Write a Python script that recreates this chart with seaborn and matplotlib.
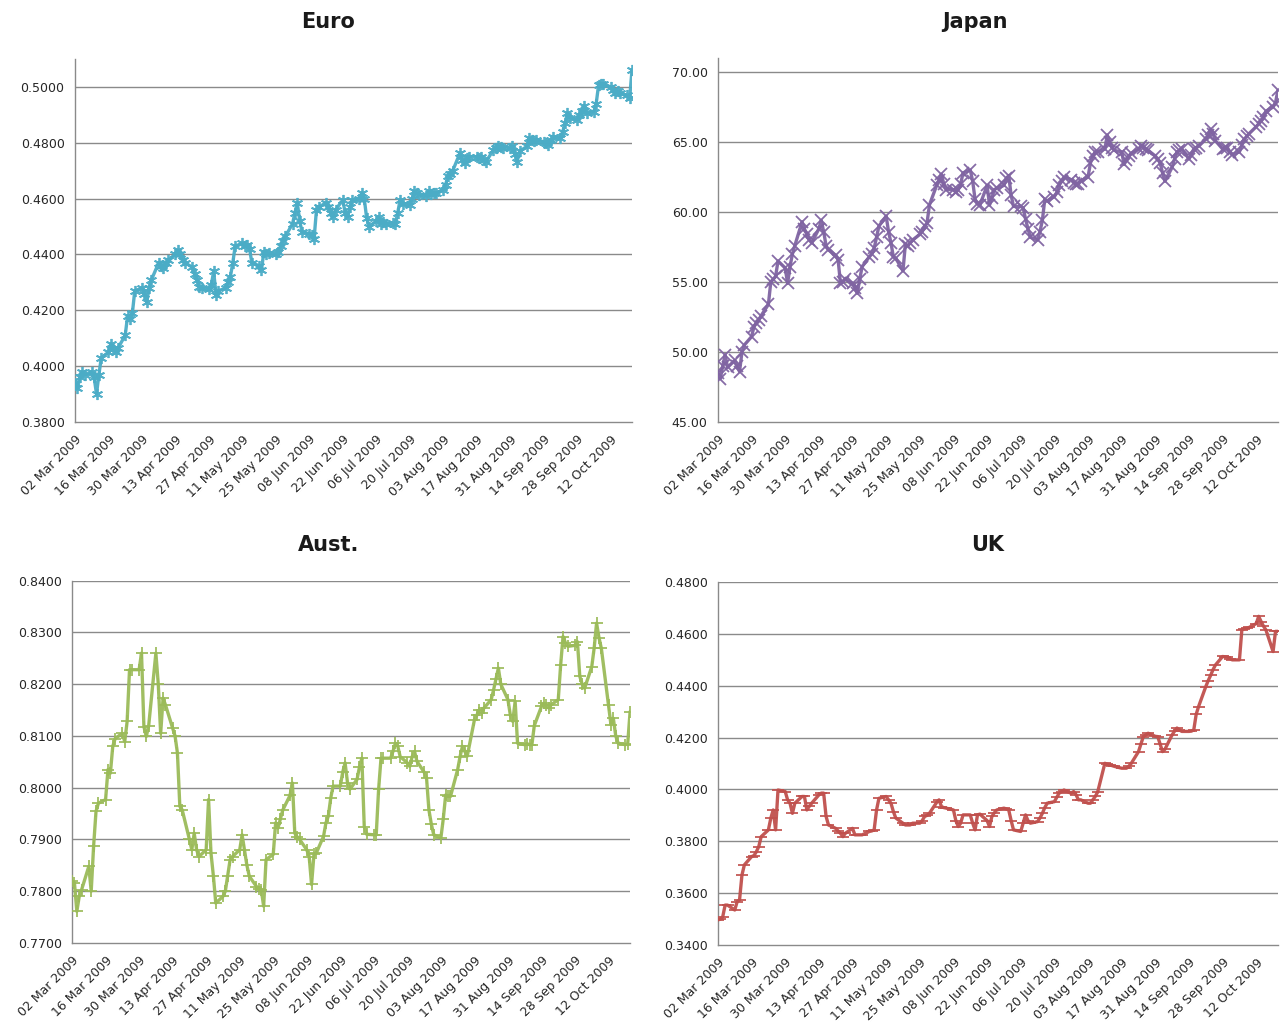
import pandas as pd
import numpy as np
import matplotlib
matplotlib.use("Agg")
import matplotlib.pyplot as plt
import matplotlib.dates as mdates
import matplotlib.ticker as mticker
import seaborn as sns

# business days, 02 Mar 2009 - 21 Oct 2009
dates = pd.bdate_range("2009-03-02", "2009-10-21")

# one row per week (Mon..Fri)
euro = [
    0.394, 0.392, 0.396, 0.398, 0.397,
    0.398, 0.396, 0.390, 0.397, 0.403,
    0.405, 0.408, 0.406, 0.405, 0.4065,
    0.411, 0.418, 0.417, 0.419, 0.427,
    0.428, 0.426, 0.423, 0.428, 0.431,
    0.437, 0.436, 0.435, 0.437, 0.438,
    0.440, 0.4415, 0.440, 0.438, 0.437,
    0.4355, 0.433, 0.431, 0.4285, 0.428,
    0.4275, 0.429, 0.434, 0.4255, 0.427,
    0.428, 0.430, 0.432, 0.437, 0.443,
    0.444, 0.443, 0.4435, 0.442, 0.437,
    0.436, 0.4345, 0.441, 0.440, 0.4405,
    0.440, 0.441, 0.443, 0.445, 0.4465,
    0.451, 0.455, 0.4585, 0.452, 0.448,
    0.4475, 0.447, 0.4455, 0.456, 0.457,
    0.4585, 0.457, 0.455, 0.4535, 0.456,
    0.4595, 0.455, 0.4535, 0.457, 0.4595,
    0.460, 0.462, 0.460, 0.453, 0.450,
    0.452, 0.4535, 0.451, 0.4518, 0.451,
    0.4512, 0.451, 0.455, 0.4596, 0.458,
    0.4578, 0.460, 0.4626, 0.462, 0.4614,
    0.461, 0.4626, 0.4615, 0.462, 0.462,
    0.4632, 0.465, 0.468, 0.469, 0.470,
    0.4763, 0.474, 0.4727, 0.4745, 0.4751,
    0.475, 0.4745, 0.4751, 0.474, 0.4733,
    0.4775, 0.478, 0.4787, 0.4785, 0.478,
    0.478, 0.4787, 0.476, 0.4733, 0.477,
    0.4787, 0.4816, 0.481, 0.4805, 0.481,
    0.4804, 0.4798, 0.4792, 0.481, 0.4822,
    0.4816, 0.484, 0.487, 0.4906, 0.489,
    0.4882, 0.490, 0.4915, 0.4933, 0.4906,
    0.4912, 0.494, 0.5006, 0.501, 0.5012,
    0.500, 0.4989, 0.498, 0.4985, 0.4977,
    0.497, 0.4959, 0.5062,
]

japan = [
    48.5, 48.1, 49.0, 49.8, 48.9,
    49.4, 49.0, 48.6, 50.0, 50.5,
    51.1, 51.8, 52.1, 52.3, 52.6,
    53.4, 55.0, 55.2, 55.4, 56.5,
    56.0, 54.9, 56.1, 57.0, 57.6,
    59.3, 58.8, 58.4, 58.0, 57.8,
    58.8, 59.4, 58.6, 57.6, 57.3,
    56.9, 56.6, 54.9, 55.0, 55.2,
    54.9, 54.6, 54.2, 55.2, 56.1,
    56.8, 57.0, 57.4, 58.2, 59.0,
    59.7, 58.6, 57.8, 56.8, 56.7,
    55.8, 57.7, 57.6, 57.8, 58.0,
    58.4, 58.6, 59.0, 59.2, 60.5,
    61.9, 62.3, 62.7, 62.0, 61.6,
    61.6, 61.4, 61.6, 62.0, 62.8,
    63.0, 62.2, 60.9, 60.6, 60.5,
    61.9, 60.5, 61.0, 61.6, 61.7,
    61.9, 62.4, 62.6, 61.2, 60.4,
    60.4, 60.3, 59.5, 58.8, 58.2,
    58.0, 58.6, 59.4, 60.9, 60.8,
    61.1, 61.4, 61.9, 62.2, 62.5,
    62.3, 62.1, 62.0, 62.0, 62.2,
    62.5, 63.5, 64.0, 64.3, 64.3,
    64.5, 65.5, 65.0, 64.6, 64.4,
    64.3, 63.4, 63.7, 64.0, 64.2,
    64.5, 64.7, 64.6, 64.5, 64.4,
    64.0, 63.8, 63.5, 62.8, 62.2,
    63.2, 63.8, 64.3, 64.4, 64.5,
    63.8, 64.1, 64.5, 64.6, 64.7,
    65.2, 65.5, 65.9, 65.6, 65.1,
    64.5, 64.6, 64.6, 64.3, 64.1,
    64.3, 64.8, 65.2, 65.4, 65.6,
    66.1, 66.3, 66.5, 66.8, 67.2,
    67.5, 67.8, 68.7,
]

aust = [
    0.7819, 0.7816, 0.7761, 0.7790, 0.7803,
    0.7848, 0.7800, 0.7887, 0.7954, 0.7970,
    0.7977, 0.8035, 0.8028, 0.8080, 0.8095,
    0.8105, 0.8089, 0.8128, 0.8228, 0.8228,
    0.8228, 0.8260, 0.8118, 0.8099, 0.8120,
    0.8260, 0.8200, 0.8105, 0.8173, 0.8160,
    0.8115, 0.8100, 0.8067, 0.7964, 0.7957,
    0.7900, 0.7880, 0.7912, 0.7880, 0.7867,
    0.7880, 0.7977, 0.7874, 0.7830, 0.7777,
    0.7790, 0.7800, 0.7830, 0.7861, 0.7867,
    0.7880, 0.7909, 0.7880, 0.7850, 0.7829,
    0.7809, 0.7805, 0.7803, 0.7771, 0.7861,
    0.7871, 0.7932, 0.7922, 0.7940, 0.7957,
    0.7985, 0.8009, 0.7912, 0.7905, 0.7900,
    0.7880, 0.7867, 0.7813, 0.7871, 0.7874,
    0.7906, 0.7932, 0.7945, 0.7980, 0.8003,
    0.8003, 0.8030, 0.8048, 0.8010, 0.7997,
    0.8016, 0.8040, 0.8057, 0.7925, 0.7910,
    0.7909, 0.7909, 0.7997, 0.8057, 0.8057,
    0.8057, 0.8070, 0.8086, 0.8080, 0.8060,
    0.8048, 0.8041, 0.8060, 0.8070, 0.8051,
    0.8030, 0.8019, 0.7957, 0.7930, 0.7909,
    0.7903, 0.7940, 0.7986, 0.7983, 0.7983,
    0.8035, 0.8060, 0.8080, 0.8070, 0.8061,
    0.8131, 0.8140, 0.8150, 0.8145, 0.8154,
    0.8170, 0.8189, 0.8210, 0.8231, 0.8200,
    0.8170, 0.8140, 0.8128, 0.8167, 0.8086,
    0.8083, 0.8085, 0.8083, 0.8083, 0.8120,
    0.8157, 0.8163, 0.8160, 0.8154, 0.8160,
    0.8170, 0.8237, 0.8292, 0.8280, 0.8273,
    0.8275, 0.8282, 0.8215, 0.8200, 0.8192,
    0.8234, 0.8270, 0.8318, 0.8290, 0.8269,
    0.8160, 0.8122, 0.8134, 0.8100, 0.8086,
    0.8083, 0.8085, 0.8147,
]

uk = [
    0.3497, 0.3500, 0.3509, 0.3554, 0.3554,
    0.3535, 0.3567, 0.3574, 0.3670, 0.3709,
    0.3741, 0.3745, 0.3760, 0.3780, 0.3818,
    0.3844, 0.3889, 0.3921, 0.3844, 0.3998,
    0.3992, 0.3960, 0.3947, 0.3908, 0.3947,
    0.3973, 0.3973, 0.3921, 0.3935, 0.3947,
    0.3979, 0.3986, 0.3986, 0.3896, 0.3863,
    0.3850, 0.3840, 0.3831, 0.3818, 0.3831,
    0.3850, 0.3825, 0.3825, 0.3825, 0.3825,
    0.3838, 0.3840, 0.3844, 0.3921, 0.3966,
    0.3973, 0.3960, 0.3947, 0.3915, 0.3890,
    0.3870, 0.3863, 0.3863, 0.3863, 0.3870,
    0.3870, 0.3880, 0.3896, 0.3900, 0.3908,
    0.3950, 0.3960, 0.3934, 0.3930, 0.3928,
    0.3921, 0.3880, 0.3857, 0.3870, 0.3902,
    0.3902, 0.3870, 0.3844, 0.3902, 0.3905,
    0.3880, 0.3857, 0.3896, 0.3910, 0.3921,
    0.3928, 0.3925, 0.3921, 0.3880, 0.3844,
    0.3838, 0.3870, 0.3902, 0.3880, 0.3870,
    0.3876, 0.3890, 0.3908, 0.3930, 0.3947,
    0.3953, 0.3970, 0.3986, 0.3992, 0.3998,
    0.3985, 0.3992, 0.3980, 0.3960, 0.3960,
    0.3947, 0.3947, 0.3960, 0.3973, 0.3990,
    0.4101, 0.4098, 0.4095, 0.4092, 0.4089,
    0.4082, 0.4082, 0.4082, 0.4090, 0.4101,
    0.4146, 0.4175, 0.4204, 0.4210, 0.4217,
    0.4205, 0.4204, 0.4175, 0.4146, 0.4155,
    0.4211, 0.4225, 0.4237, 0.4230, 0.4224,
    0.4224, 0.4225, 0.4230, 0.4290, 0.4320,
    0.4397, 0.4420, 0.4440, 0.4462, 0.4480,
    0.4513, 0.4512, 0.4511, 0.4505, 0.4500,
    0.4500, 0.4616, 0.4620, 0.4622, 0.4625,
    0.4640, 0.4668, 0.4648, 0.4630, 0.4616,
    0.4532, 0.4610, 0.4610,
]

sns.set_style("white")
plt.rcParams["font.family"] = ["DejaVu Sans"]

fig = plt.figure(figsize=(12.82, 10.31), dpi=100)

grid_col = "#8a8a8a"
text_col = "#262626"

# name, values, colour, marker, axes rect, y range, y step, label fmt, title pos
panels = [
    ("Euro", euro, "#4BACC6", (6, 2, 0), [0.0585, 0.5907, 0.4345, 0.352],
     (0.38, 0.51), 0.02, "{:.4f}", (0.256, 0.979)),
    ("Japan", japan, "#8064A2", "x", [0.560, 0.5907, 0.4368, 0.353],
     (45, 71), 5, "{:.2f}", (0.7605, 0.979)),
    ("Aust.", aust, "#9BBB59", "+", [0.0562, 0.0854, 0.4353, 0.3514],
     (0.77, 0.84), 0.01, "{:.4f}", (0.256, 0.4714)),
    ("UK", uk, "#C0504D", "_", [0.560, 0.0834, 0.4368, 0.352],
     (0.34, 0.48), 0.02, "{:.4f}", (0.770, 0.4714)),
]

for name, vals, col, mk, rect, (lo, hi), step, fmt, (tx, ty) in panels:
    ax = fig.add_axes(rect)
    df = pd.DataFrame({"date": dates, "value": vals})
    sns.lineplot(data=df, x="date", y="value", ax=ax, color=col,
                 linewidth=2.4, marker=mk, markersize=8,
                 markeredgewidth=1.3, markeredgecolor=col, alpha=0.95,
                 zorder=3)

    ax.set_xlim(pd.Timestamp("2009-03-02"), pd.Timestamp("2009-10-21"))
    ax.set_ylim(lo, hi)
    yt = np.arange(lo, hi + step * 0.01, step)
    yt = yt[yt <= hi + 1e-9]
    ax.set_yticks(yt)
    ax.yaxis.set_major_formatter(mticker.FuncFormatter(lambda v, p, f=fmt: f.format(v)))
    for v in yt[1:]:
        ax.axhline(v, color=grid_col, linewidth=1.0, zorder=1)

    xt = pd.date_range("2009-03-02", "2009-10-21", freq="14D")
    ax.set_xticks(xt)
    ax.xaxis.set_major_formatter(mdates.DateFormatter("%d %b %Y"))
    for lab in ax.get_xticklabels():
        lab.set_rotation(45)
        lab.set_ha("right")
        lab.set_rotation_mode("anchor")

    ax.tick_params(axis="both", labelsize=9, colors=grid_col, labelcolor=text_col,
                   length=4, width=1, direction="out")
    ax.tick_params(axis="x", pad=4)
    ax.set_xlabel("")
    ax.set_ylabel("")
    for s in ("top", "right"):
        ax.spines[s].set_visible(False)
    for s in ("left", "bottom"):
        ax.spines[s].set_color(grid_col)
        ax.spines[s].set_linewidth(1.0)

    fig.text(tx, ty, name, ha="center", va="center", fontsize=15,
             fontweight="bold", color="#1a1a1a")

fig.savefig("out.png", dpi=100, facecolor="white")
